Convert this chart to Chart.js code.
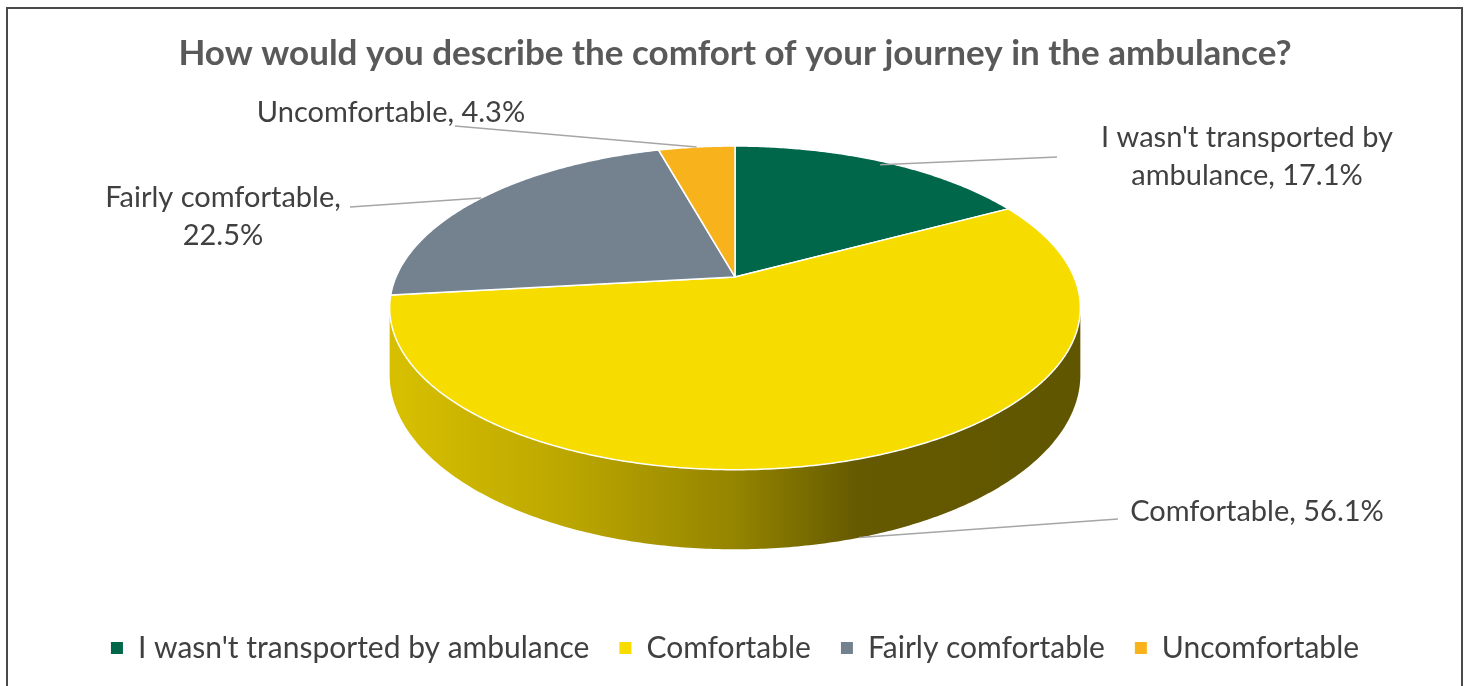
<!DOCTYPE html>
<html>
<head>
<meta charset="utf-8">
<title>Comfort of the ambulance journey</title>
<script src="https://cdn.jsdelivr.net/npm/chart.js@4.4.0/dist/chart.umd.min.js"></script>
<style>
  html, body { margin: 0; padding: 0; background: #ffffff; }
  .chart-box { position: relative; width: 1470px; height: 686px; }
</style>
</head>
<body>
<div class="chart-box"><canvas id="comfortChart"></canvas></div>
<script>
// survey answers and their share of respondents (%)
const categories = ["I wasn't transported by ambulance", 'Comfortable', 'Fairly comfortable', 'Uncomfortable'];
const shares = [17.1, 56.1, 22.5, 4.3];
const sliceColors = ['#00674A', '#F7DC00', '#748290', '#F8B21C'];
const titleText = 'How would you describe the comfort of your journey in the ambulance?';

// label placement: text centre, wrap width, start of the leader line,
// and where the line meets the slice (radius fraction, top face or bottom of wall)
const labelLayout = [
  { x: 1247, y: 138, wrap: 340, lineFrom: [1057, 157], anchor: 0.97, onWall: false },
  { x: 1257, y: 512, wrap: 0,   lineFrom: [1118, 519], anchor: 1,    onWall: true },
  { x: 223,  y: 198, wrap: 275, lineFrom: [350, 207],  anchor: 1,    onWall: false },
  { x: 391,  y: 113, wrap: 0,   lineFrom: [455, 126],  anchor: 1,    onWall: false }
];

const FONT = 'Lato, "Open Sans", sans-serif';
const TEXT_COLOR = '#404040';

function shade(hex, f) {
  const n = parseInt(hex.slice(1), 16);
  const r = Math.round(((n >> 16) & 255) * f);
  const g = Math.round(((n >> 8) & 255) * f);
  const b = Math.round((n & 255) * f);
  return `rgb(${r},${g},${b})`;
}

// maps a point of the (flat) pie onto the tilted disc, with a bit of perspective
function makeProjector(arc, area, o) {
  const rx = arc.outerRadius;
  const ry = rx * o.tilt;
  const depth = rx * o.depth;
  const k = o.perspective;
  const cx = arc.x;
  const cy = area.top + ry / (1 + k);
  return function (angle, r, h) {
    const px = Math.cos(angle) * r;
    const pz = Math.sin(angle) * r;   // positive = towards the viewer
    const w = 1 - k * pz;
    return { x: cx + rx * px / w, y: cy + (ry * pz + depth * h) / w };
  };
}

function traceRim(ctx, project, a0, a1, h, move) {
  const steps = Math.max(2, Math.ceil(Math.abs(a1 - a0) / 0.01));
  for (let s = 0; s <= steps; s++) {
    const p = project(a0 + (a1 - a0) * s / steps, 1, h);
    if (s === 0 && move) ctx.moveTo(p.x, p.y);
    else ctx.lineTo(p.x, p.y);
  }
}

function wrapText(ctx, text, maxWidth) {
  if (!maxWidth) return [text];
  const words = text.split(' ');
  const lines = [];
  let line = '';
  words.forEach(w => {
    const test = line ? line + ' ' + w : w;
    if (line && ctx.measureText(test).width > maxWidth) {
      lines.push(line);
      line = w;
    } else {
      line = test;
    }
  });
  lines.push(line);
  return lines;
}

// white background + thin frame
const frame = {
  id: 'frame',
  beforeDraw(chart) {
    const ctx = chart.ctx;
    ctx.save();
    ctx.fillStyle = '#ffffff';
    ctx.fillRect(0, 0, chart.width, chart.height);
    ctx.strokeStyle = '#4a4a4a';
    ctx.lineWidth = 2;
    ctx.strokeRect(7, 8, chart.width - 15, chart.height + 20);
    ctx.restore();
  }
};

// draws the pie as a 3D disc using the angles Chart.js computed for each arc
const pie3d = {
  id: 'pie3d',
  beforeDatasetsDraw(chart, args, opts) {
    const arcs = chart.getDatasetMeta(0).data;
    if (!arcs.length) return;
    const ctx = chart.ctx;
    const colors = chart.data.datasets[0].backgroundColor;
    const project = makeProjector(arcs[0], chart.chartArea, opts);
    // the wall is seen between the two silhouette points of the disc
    const edge = Math.asin(opts.perspective);
    ctx.save();

    arcs.forEach((arc, i) => {
      const a0 = Math.max(arc.startAngle, edge);
      const a1 = Math.min(arc.endAngle, Math.PI - edge);
      if (a1 <= a0) return;
      ctx.beginPath();
      traceRim(ctx, project, a0, a1, 0, true);
      traceRim(ctx, project, a1, a0, 1, false);
      ctx.closePath();
      const rx = arc.outerRadius;
      const g = ctx.createLinearGradient(arc.x - rx, 0, arc.x + rx, 0);
      opts.wallShade.forEach(([pos, f]) => g.addColorStop(pos, shade(colors[i], f)));
      ctx.fillStyle = g;
      ctx.fill();
    });

    // top faces
    const c = project(0, 0, 0);
    arcs.forEach((arc, i) => {
      ctx.beginPath();
      ctx.moveTo(c.x, c.y);
      traceRim(ctx, project, arc.startAngle, arc.endAngle, 0, false);
      ctx.closePath();
      ctx.fillStyle = colors[i];
      ctx.fill();
      ctx.strokeStyle = '#ffffff';
      ctx.lineWidth = 1.5;
      ctx.lineJoin = 'round';
      ctx.stroke();
    });
    ctx.restore();
    return false;
  },
  afterDraw(chart, args, opts) {
    const arcs = chart.getDatasetMeta(0).data;
    if (!arcs.length) return;
    const ctx = chart.ctx;
    const project = makeProjector(arcs[0], chart.chartArea, opts);
    const values = chart.data.datasets[0].data;
    ctx.save();
    ctx.font = `${opts.labelSize}px ${FONT}`;
    ctx.textAlign = 'center';
    ctx.textBaseline = 'middle';
    arcs.forEach((arc, i) => {
      const lay = labelLayout[i];
      const mid = (arc.startAngle + arc.endAngle) / 2;
      const end = project(mid, lay.anchor, lay.onWall ? 1 : 0);
      ctx.beginPath();
      ctx.moveTo(lay.lineFrom[0], lay.lineFrom[1]);
      ctx.lineTo(end.x, end.y);
      ctx.strokeStyle = '#A6A6A6';
      ctx.lineWidth = 1.5;
      ctx.stroke();

      const text = chart.data.labels[i] + ', ' + values[i].toFixed(1) + '%';
      const lines = wrapText(ctx, text, lay.wrap);
      ctx.fillStyle = TEXT_COLOR;
      lines.forEach((ln, j) => ctx.fillText(ln, lay.x, lay.y + j * opts.labelLine));
    });
    ctx.restore();
  }
};

new Chart(document.getElementById('comfortChart'), {
  type: 'pie',
  data: {
    labels: categories,
    datasets: [{
      data: shares,
      backgroundColor: sliceColors,
      borderWidth: 0,
      radius: 339
    }]
  },
  options: {
    responsive: true,
    maintainAspectRatio: false,
    animation: false,
    events: [],
    layout: { padding: { top: 0, bottom: 13, left: 0, right: 0 } },
    plugins: {
      title: {
        display: true,
        text: titleText,
        color: '#595959',
        font: { family: FONT, size: 35, weight: 'bold' },
        padding: { top: 33, bottom: 71 }
      },
      legend: {
        position: 'bottom',
        labels: {
          color: TEXT_COLOR,
          font: { family: FONT, size: 30 },
          boxWidth: 12,
          boxHeight: 12,
          padding: 30
        }
      },
      tooltip: { enabled: false },
      pie3d: {
        tilt: 0.46,
        depth: 0.19,
        perspective: 0.191,
        wallShade: [[0, 0.87], [0.25, 0.76], [0.5, 0.6], [0.68, 0.41], [1, 0.39]],
        labelSize: 29,
        labelLine: 38
      }
    }
  },
  plugins: [frame, pie3d]
});
</script>
</body>
</html>
